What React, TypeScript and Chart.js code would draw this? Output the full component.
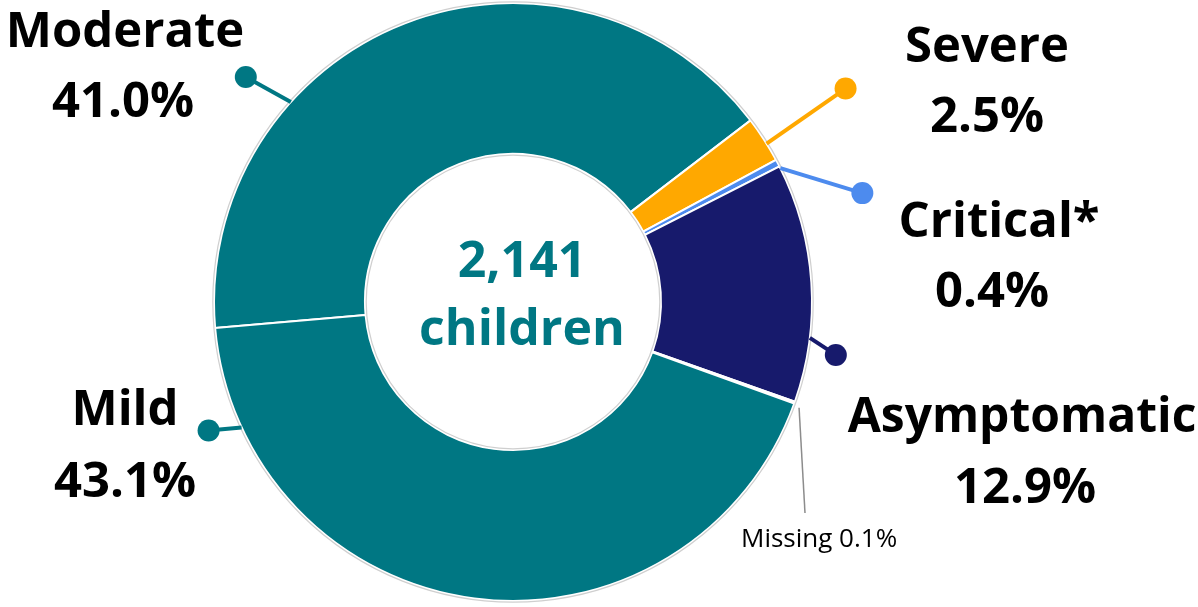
import React, { useEffect, useRef } from "react";
import { Chart, registerables } from "chart.js";

Chart.register(...registerables);

// ---- data ----
const categories = ["Moderate", "Severe", "Critical*", "Asymptomatic", "Missing", "Mild"];
const percentages = [41.0, 2.5, 0.4, 12.9, 0.1, 43.1];
const centerLines = ["2,141", "children"];

// ---- styling ----
const sliceColors = ["#007783", "#FFA800", "#4D8BEE", "#171A6C", "#A6A6A6", "#007783"];
const TEAL = "#007783";
const FONT = "'Open Sans', 'Noto Sans', sans-serif";

// label layout per category (positions are annotation styling)
// name/value: [centerX, baselineY]; anchorDeg: clockwise from top; dot: offset from anchor
const labelLayout = [
  { name: [125, 47], value: [123, 117], size: 49, anchorDeg: 312, dot: [-45, -25] },
  { name: [987, 62], value: [987, 132], size: 49, anchorDeg: 58, dot: [79, -55] },
  { name: [999, 237], value: [992, 307], size: 49, anchorDeg: 63.4, dot: [82, 25] },
  { name: [1022, 432], value: [1025, 503], size: 48, anchorDeg: 96.9, dot: [26, 17] },
  null,
  { name: [125, 425], value: [125, 497], size: 49, anchorDeg: 245.2, dot: [-33, 3] },
];
const missingLayout = { text: [741, 547], anchorDeg: 110.3, end: [805, 513] };

const annotationPlugin = {
  id: "annotations",
  afterDatasetsDraw(chart: any) {
    const ctx: CanvasRenderingContext2D = chart.ctx;
    const meta = chart.getDatasetMeta(0);
    const arc0: any = meta.data[0];
    if (!arc0) return;
    const cx = arc0.x;
    const cy = arc0.y;
    const R = arc0.outerRadius;
    const r = arc0.innerRadius;
    const pt = (deg: number, rad: number) => {
      const a = ((deg - 90) * Math.PI) / 180;
      return [cx + rad * Math.cos(a), cy + rad * Math.sin(a)];
    };
    ctx.save();
    // thin grey outline
    ctx.strokeStyle = "#cfcfcf";
    ctx.lineWidth = 1.2;
    ctx.beginPath();
    ctx.arc(cx, cy, R + 1.2, 0, Math.PI * 2);
    ctx.stroke();
    ctx.beginPath();
    ctx.arc(cx, cy, r - 1.2, 0, Math.PI * 2);
    ctx.stroke();

    // leader lines + labels
    ctx.textAlign = "center";
    ctx.textBaseline = "alphabetic";
    categories.forEach((cat, i) => {
      const lay = labelLayout[i];
      if (!lay) return;
      const color = sliceColors[i];
      const [sx, sy] = pt(lay.anchorDeg, R);
      const ex = sx + lay.dot[0];
      const ey = sy + lay.dot[1];
      ctx.strokeStyle = color;
      ctx.lineWidth = 4;
      ctx.beginPath();
      ctx.moveTo(sx, sy);
      ctx.lineTo(ex, ey);
      ctx.stroke();
      ctx.fillStyle = color;
      ctx.beginPath();
      ctx.arc(ex, ey, 11, 0, Math.PI * 2);
      ctx.fill();

      ctx.fillStyle = "#000000";
      ctx.font = `bold ${lay.size}px ${FONT}`;
      ctx.fillText(cat, lay.name[0], lay.name[1]);
      ctx.font = `bold 49px ${FONT}`;
      ctx.fillText(`${percentages[i].toFixed(1)}%`, lay.value[0], lay.value[1]);
    });

    // Missing label
    const mi = categories.indexOf("Missing");
    const [msx, msy] = pt(missingLayout.anchorDeg, R + 6);
    ctx.strokeStyle = "#8c8c8c";
    ctx.lineWidth = 1.5;
    ctx.beginPath();
    ctx.moveTo(msx, msy);
    ctx.lineTo(missingLayout.end[0], missingLayout.end[1]);
    ctx.stroke();
    ctx.fillStyle = "#000000";
    ctx.textAlign = "left";
    ctx.font = `26px ${FONT}`;
    ctx.fillText(`${categories[mi]} ${percentages[mi].toFixed(1)}%`, missingLayout.text[0], missingLayout.text[1]);

    // center text
    ctx.textAlign = "center";
    ctx.fillStyle = TEAL;
    ctx.font = `bold 50px ${FONT}`;
    ctx.fillText(centerLines[0], cx + 9, cy - 25);
    ctx.fillText(centerLines[1], cx + 9, cy + 43);
    ctx.restore();
  },
};

export default function App() {
  const canvasRef = useRef<HTMLCanvasElement | null>(null);

  useEffect(() => {
    const canvas = canvasRef.current;
    if (!canvas) return;
    const chart = new Chart(canvas, {
      type: "doughnut",
      data: {
        labels: categories,
        datasets: [
          {
            data: percentages,
            backgroundColor: sliceColors,
            borderColor: "#ffffff",
            borderWidth: 2,
            hoverOffset: 0,
          },
        ],
      },
      options: {
        animation: false,
        responsive: true,
        maintainAspectRatio: false,
        rotation: 265,
        cutout: "49.5%",
        radius: 299,
        layout: { padding: { top: 3, bottom: 6, left: 213, right: 385 } },
        plugins: {
          legend: { display: false },
          tooltip: { enabled: false },
        },
        events: [],
      },
      plugins: [annotationPlugin],
    });
    return () => chart.destroy();
  }, []);

  return (
    <div style={{ position: "absolute", left: 0, top: 0, width: 1198, height: 607, background: "#ffffff" }}>
      <canvas ref={canvasRef} />
    </div>
  );
}
